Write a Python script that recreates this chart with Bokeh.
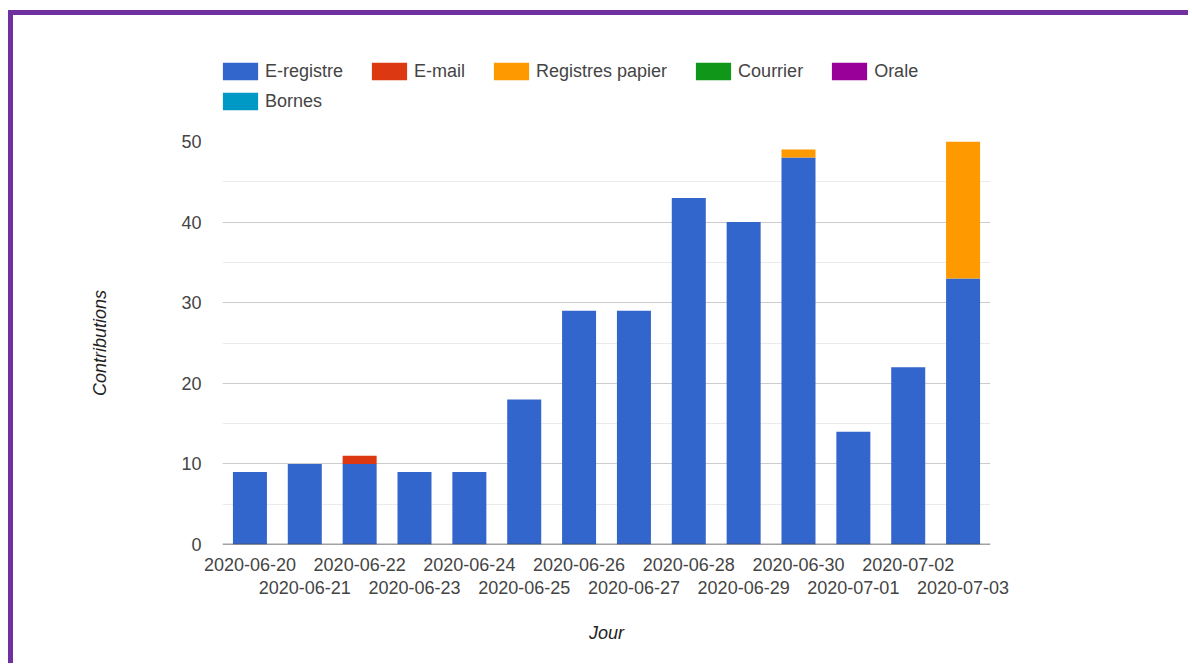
from bokeh.plotting import figure
from bokeh.models import (Range1d, LinearAxis, FixedTicker, Div, Spacer,
                          Legend, LegendItem, Span, ColumnDataSource)
from bokeh.layouts import column, row
from bokeh.embed import file_html
from bokeh.resources import INLINE

dates = ["2020-06-20", "2020-06-21", "2020-06-22", "2020-06-23", "2020-06-24",
         "2020-06-25", "2020-06-26", "2020-06-27", "2020-06-28", "2020-06-29",
         "2020-06-30", "2020-07-01", "2020-07-02", "2020-07-03"]
series = ["E-registre", "E-mail", "Registres papier", "Courrier", "Orale", "Bornes"]
e_registre = [9, 10, 10, 9, 9, 18, 29, 29, 43, 40, 48, 14, 22, 33]
e_mail = [0, 0, 1, 0, 0, 0, 0, 0, 0, 0, 0, 0, 0, 0]
registres_papier = [0, 0, 0, 0, 0, 0, 0, 0, 0, 0, 1, 0, 0, 17]
courrier = [0] * 14
orale = [0] * 14
bornes = [0] * 14
colors = ["#3366cc", "#dc3912", "#ff9900", "#109618", "#990099", "#0099c6"]
y_ticks = [0, 10, 20, 30, 40, 50]

FONT = "Liberation Sans"
PURPLE = "#7030a0"

idx = list(range(len(dates)))
source = ColumnDataSource(dict(idx=idx, **dict(zip(series, [e_registre, e_mail, registres_papier,
                                                              courrier, orale, bornes]))))

FW, FH = 768, 403
p = figure(frame_width=FW, frame_height=FH, x_range=Range1d(-0.5, len(dates) - 0.5),
           y_range=Range1d(0, 50), output_backend="svg", toolbar_location=None,
           x_axis_location=None, min_border_left=209, min_border_right=194,
           min_border_top=16, min_border_bottom=0)
p.outline_line_color = None
p.background_fill_color = "white"
p.border_fill_color = "white"

renderers = p.vbar_stack(series, x="idx", width=0.62, color=colors, source=source,
                         line_color=None)

# y axis
yax = p.yaxis[0]
yax.ticker = FixedTicker(ticks=y_ticks, minor_ticks=[5, 15, 25, 35, 45])
yax.axis_line_color = None
yax.major_tick_line_color = None
yax.minor_tick_line_color = None
yax.major_tick_out = 0
yax.major_label_standoff = 17
yax.major_label_text_font = FONT
yax.major_label_text_font_size = "18px"
yax.major_label_text_color = "#444444"
yax.axis_label = "Contributions"
yax.axis_label_text_font = FONT
yax.axis_label_text_font_size = "18px"
yax.axis_label_text_font_style = "italic"
yax.axis_label_text_color = "#222222"
yax.axis_label_standoff = 68

p.ygrid.ticker = yax.ticker
p.ygrid.grid_line_color = "#cccccc"
p.ygrid.minor_grid_line_color = "#ebebeb"
for g in p.xgrid:
    g.grid_line_color = None

# x axes: two staggered rows of labels
def make_axis(ticks, standoff):
    ax = LinearAxis(ticker=FixedTicker(ticks=ticks),
                    major_label_overrides={i: dates[i] for i in ticks})
    ax.axis_line_color = None
    ax.major_tick_line_color = None
    ax.minor_tick_line_color = None
    ax.major_tick_out = 0
    ax.major_tick_in = 0
    ax.major_label_standoff = standoff
    ax.major_label_text_font = FONT
    ax.major_label_text_font_size = "18px"
    ax.major_label_text_color = "#444444"
    return ax

ax1 = make_axis(idx[0::2], 13)
ax2 = make_axis(idx[1::2], 7)
ax2.axis_label = "Jour"
ax2.axis_label_text_font = FONT
ax2.axis_label_text_font_size = "18px"
ax2.axis_label_text_font_style = "italic"
ax2.axis_label_text_color = "#222222"
ax2.axis_label_standoff = 26
p.add_layout(ax1, "below")
p.add_layout(ax2, "below")

p.add_layout(Span(location=0, dimension="width", line_color="#444444", line_width=1.5))

# legend strip above the chart (its own canvas so the legend is not clipped)
LW, LH = 1171, 110
lf = figure(frame_width=LW, frame_height=LH, x_range=Range1d(0, 1), y_range=Range1d(0, 1),
            output_backend="svg", toolbar_location=None, x_axis_location=None,
            y_axis_location=None, min_border=0)
lf.outline_line_color = None
lf.grid.visible = False
lf.border_fill_color = "white"
# zero-size bars: they only carry the colours for the legend swatches
swatches = [lf.vbar(x="idx", top=0, bottom=0, width=0, source=source, color=c,
                    line_color=None) for c in colors]

def make_legend(names, rends, loc):
    return Legend(items=[LegendItem(label=n, renderers=[r]) for n, r in zip(names, rends)],
                  orientation="horizontal", location=loc,
                  spacing=24, glyph_width=44, glyph_height=22, label_standoff=3,
                  padding=0, margin=0, border_line_color=None,
                  background_fill_alpha=0, label_text_font=FONT,
                  label_text_font_size="18px", label_text_color="#444444")

lf.add_layout(make_legend(series[:5], swatches[:5], (205, 43)))
lf.add_layout(make_legend(series[5:], swatches[5:], (205, 13)))

# purple frame on the top and left edges
top_bar = Div(width=1180, height=5, margin=0, styles={"background-color": PURPLE})
left_bar = Div(width=5, height=648, margin=0, styles={"background-color": PURPLE})
layout = row(Spacer(width=8, height=10),
             column(Spacer(width=10, height=10), top_bar,
                    row(left_bar, column(lf, p))))

open("out.html", "w").write(file_html(layout, INLINE))
